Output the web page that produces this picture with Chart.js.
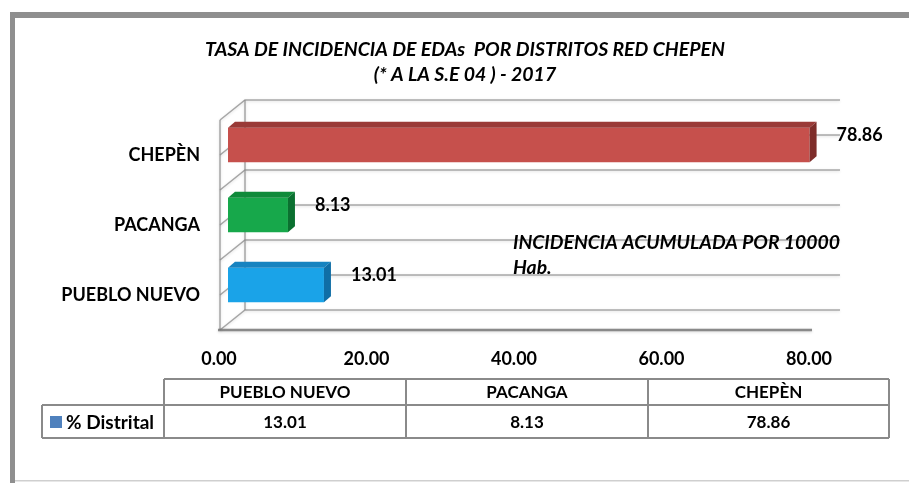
<!DOCTYPE html>
<html><head><meta charset="utf-8">
<script src="https://cdn.jsdelivr.net/npm/chart.js@4.4.0/dist/chart.umd.min.js"></script>
<style>html,body{margin:0;padding:0;background:#fff;}#wrap{width:909px;height:483px;position:relative;}</style>
</head><body><div id="wrap"><canvas id="c" width="909" height="483"></canvas></div>
<script>
// ---- data ----
const categories = ['PUEBLO NUEVO', 'PACANGA', 'CHEPÈN'];
const values = [13.01, 8.13, 78.86];
const seriesName = '% Distrital';
const xMin = 0, xMax = 80, xStep = 20;
const titleLines = ['TASA DE INCIDENCIA DE EDAs  POR DISTRITOS RED CHEPEN', '(* A LA S.E 04 ) - 2017'];
const noteLines = ['INCIDENCIA ACUMULADA POR 10000', 'Hab.'];

// ---- styles ----
const FAM = 'Lato, "Open Sans", "Liberation Sans", sans-serif';
const faceColors = ['#1aa3e8', '#17a84b', '#c6504c'];
const topColors  = ['#1683c0', '#0f8a3a', '#9a3a37'];
const sideColors = ['#0f6ea6', '#0b7030', '#7e2d2a'];
const legendColor = '#4f81bd';

function fitSize(ctx, text, width, style) {
  ctx.font = style + ' 100px ' + FAM;
  return 100 * width / ctx.measureText(text).width;
}

const deco = {
  id: 'deco',
  beforeDraw(chart) {
    const ctx = chart.ctx;
    ctx.save();
    ctx.fillStyle = '#fff';
    ctx.fillRect(0, 0, chart.width, chart.height);
    // frame
    ctx.fillStyle = '#8f8f8f';
    ctx.fillRect(10, 12, 899, 6);
    ctx.fillRect(10, 12, 5, 471);
    ctx.fillStyle = '#cfcfcf';
    ctx.fillRect(15, 480, 894, 1.5);
    // title
    ctx.fillStyle = '#000';
    ctx.textAlign = 'center';
    ctx.textBaseline = 'middle';
    const ts = fitSize(ctx, titleLines[0], 520, 'italic bold');
    ctx.font = 'italic bold ' + ts + 'px ' + FAM;
    ctx.fillText(titleLines[0], 465, 50);
    ctx.fillText(titleLines[1], 465, 75);
    ctx.restore();
  },
  beforeDatasetsDraw(chart) {
    const ctx = chart.ctx, ca = chart.chartArea, ys = chart.scales.y;
    const fx = -8, fy = 10, bx = 17, by = -10;
    ctx.save();
    const band = Math.abs(ys.getPixelForValue(1) - ys.getPixelForValue(0));
    const lines = [];
    for (let i = 0; i < categories.length; i++) {
      const c = ys.getPixelForValue(i);
      lines.push(c - band / 2, c, c + band / 2);
    }
    const uniq = [...new Set(lines.map(v => Math.round(v)))];
    ctx.strokeStyle = 'rgba(140,140,140,0.75)';
    ctx.lineWidth = 1.5;
    ctx.shadowColor = 'rgba(0,0,0,0.18)';
    ctx.shadowBlur = 3;
    ctx.shadowOffsetY = 1;
    uniq.forEach(y => {
      ctx.beginPath();
      ctx.moveTo(ca.left + fx, y + fy);
      ctx.lineTo(ca.left + bx, y + by);
      ctx.lineTo(ca.right + 22, y + by);
      ctx.stroke();
    });
    // walls
    ctx.beginPath();
    ctx.moveTo(ca.left + bx, ca.top + by);
    ctx.lineTo(ca.left + bx, ca.bottom + by);
    ctx.moveTo(ca.left + fx, ca.top + fy);
    ctx.lineTo(ca.left + fx, ca.bottom + fy);
    ctx.stroke();
    ctx.strokeStyle = 'rgba(120,120,120,0.85)';
    ctx.lineWidth = 2.5;
    ctx.beginPath();
    ctx.moveTo(ca.left + fx - 2, ca.bottom + fy);
    ctx.lineTo(ca.right - 6, ca.bottom + fy);
    ctx.stroke();
    ctx.restore();
  },
  afterDatasetsDraw(chart) {
    const ctx = chart.ctx;
    const meta = chart.getDatasetMeta(0);
    const dx = 7, dy = -6;
    ctx.save();
    meta.data.forEach((el, i) => {
      const p = el.getProps(['x', 'y', 'base', 'height'], true);
      const top = p.y - p.height / 2, bot = p.y + p.height / 2;
      ctx.fillStyle = topColors[i];
      ctx.beginPath();
      ctx.moveTo(p.base, top); ctx.lineTo(p.x, top);
      ctx.lineTo(p.x + dx, top + dy); ctx.lineTo(p.base + dx, top + dy);
      ctx.closePath(); ctx.fill();
      ctx.fillStyle = sideColors[i];
      ctx.beginPath();
      ctx.moveTo(p.x, top); ctx.lineTo(p.x + dx, top + dy);
      ctx.lineTo(p.x + dx, bot + dy); ctx.lineTo(p.x, bot);
      ctx.closePath(); ctx.fill();
      // value label
      ctx.fillStyle = '#000';
      ctx.font = 'bold 18px ' + FAM;
      ctx.textAlign = 'left';
      ctx.textBaseline = 'middle';
      ctx.fillText(values[i].toFixed(2), p.x + dx + 20, p.y - 10);
    });
    // note
    const ns = fitSize(ctx, noteLines[0], 327, 'italic bold');
    ctx.font = 'italic bold ' + ns + 'px ' + FAM;
    ctx.textAlign = 'left';
    ctx.fillText(noteLines[0], 513, 243);
    ctx.fillText(noteLines[1], 513, 268);

    // data table
    const cols = [164, 406, 648, 889];
    const rH = [379, 405, 438];
    const legL = 42;
    ctx.strokeStyle = '#8a8a8a';
    ctx.lineWidth = 2;
    ctx.beginPath();
    ctx.moveTo(cols[0], rH[0]); ctx.lineTo(cols[3], rH[0]);
    ctx.moveTo(legL, rH[1]); ctx.lineTo(cols[3], rH[1]);
    ctx.moveTo(legL, rH[2]); ctx.lineTo(cols[3], rH[2]);
    ctx.moveTo(legL, rH[1]); ctx.lineTo(legL, rH[2]);
    cols.forEach(x => { ctx.moveTo(x, rH[0]); ctx.lineTo(x, rH[2]); });
    ctx.stroke();
    ctx.fillStyle = '#000';
    ctx.font = 'bold 17px ' + FAM;
    ctx.textAlign = 'center';
    ctx.textBaseline = 'middle';
    categories.forEach((c, i) => {
      const cx = (cols[i] + cols[i + 1]) / 2;
      ctx.fillText(c, cx, (rH[0] + rH[1]) / 2 + 1);
      ctx.fillText(values[i].toFixed(2), cx, (rH[1] + rH[2]) / 2 + 1);
    });
    ctx.fillStyle = legendColor;
    ctx.fillRect(50, 416, 12, 12);
    ctx.fillStyle = '#000';
    ctx.font = 'bold 19px ' + FAM;
    ctx.textAlign = 'left';
    ctx.fillText(seriesName, 66, (rH[1] + rH[2]) / 2 + 1);
    ctx.restore();
  }
};

const tickFont = { family: FAM, size: 18, weight: 'bold' };
new Chart(document.getElementById('c').getContext('2d'), {
  type: 'bar',
  data: {
    labels: categories,
    datasets: [{
      label: seriesName,
      data: values,
      backgroundColor: faceColors,
      borderWidth: 0,
      barPercentage: 0.49,
      categoryPercentage: 1
    }]
  },
  options: {
    indexAxis: 'y',
    responsive: false,
    animation: false,
    layout: { padding: { left: 0, right: 91, top: 110, bottom: 0 } },
    plugins: { legend: { display: false }, tooltip: { enabled: false }, title: { display: false } },
    scales: {
      x: {
        min: xMin, max: xMax,
        ticks: { stepSize: xStep, callback: v => Number(v).toFixed(2), font: tickFont, color: '#000', padding: 20, labelOffset: -9, maxRotation: 0 },
        grid: { display: false }, border: { display: false },
        afterFit: s => { s.height = 163; }
      },
      y: {
        reverse: true,
        ticks: { font: tickFont, color: '#000', padding: 20, labelOffset: 10 },
        grid: { display: false }, border: { display: false },
        afterFit: s => { s.width = 228; }
      }
    }
  },
  plugins: [deco]
});
</script>
</body></html>
